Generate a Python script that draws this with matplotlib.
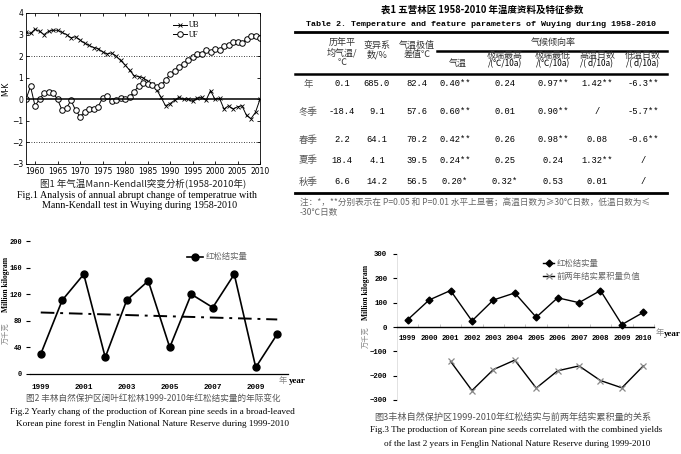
import matplotlib
matplotlib.use('Agg')
import matplotlib.pyplot as plt
from matplotlib.lines import Line2D
import numpy as np

W, H = 681, 454
CJK = ['Noto Sans CJK SC', 'DejaVu Sans']
SERIF = 'Liberation Serif'
MONO = 'Liberation Mono'

# ---- Fig.1 Mann-Kendall data (1958-2010)
mk_years = list(range(1958, 2011))
ub = [3.10, 3.05, 3.25, 3.15, 3.00, 3.15, 3.20, 3.20, 3.10, 3.00, 2.85, 2.90, 2.75, 2.60,
      2.50, 2.40, 2.35, 2.20, 2.10, 2.15, 2.00, 1.80, 1.60, 1.35, 1.10, 1.05, 1.00, 0.85,
      0.70, 0.45, 0.10, -0.30, -0.20, -0.05, 0.10, 0.00, 0.00, -0.10, 0.05, 0.10, -0.05,
      0.40, 0.00, 0.05, -0.45, -0.30, -0.45, -0.35, -0.30, -0.75, -0.90, -0.60, 0.00]
uf = [0.00, 0.60, -0.30, 0.00, 0.30, 0.35, 0.30, 0.00, -0.50, -0.40, -0.05, -0.50, -0.80,
      -0.60, -0.45, -0.45, -0.35, 0.05, 0.15, -0.10, -0.05, 0.05, 0.00, 0.10, 0.35, 0.60,
      0.75, 0.70, 0.65, 0.55, 0.65, 0.90, 1.15, 1.30, 1.50, 1.65, 1.80, 1.95, 2.10, 2.10,
      2.30, 2.20, 2.35, 2.30, 2.45, 2.50, 2.65, 2.65, 2.60, 2.80, 2.95, 2.95, 2.85]

# ---- Fig.2 / Fig.3 seed production (1999-2010)
seed_years = [str(y) for y in range(1999, 2011)]
seed = [30, 111, 150, 25, 111, 140, 40, 120, 100, 150, 10, 60]
trend_ends = [92.5, 82.0]
neg_years = seed_years[2:]
neg_prev2 = [-141, -261, -175, -136, -251, -180, -160, -220, -250, -160]

# ---- Table
row_names = ['年', '冬季', '春季', '夏季', '秋季']
mean_temp = ['0.1', '-18.4', '2.2', '18.4', '6.6']
cv_pct = ['685.0', '9.1', '64.1', '4.1', '14.2']
temp_range = ['82.4', '57.6', '70.2', '39.5', '56.5']
rate_temp = ['0.40**', '0.60**', '0.42**', '0.24**', '0.20*']
rate_max = ['0.24', '0.01', '0.26', '0.25', '0.32*']
rate_min = ['0.97**', '0.90**', '0.98**', '0.24', '0.53']
rate_hot = ['1.42**', '/', '0.08', '1.32**', '0.01']
rate_cold = ['-6.3**', '-5.7**', '-0.6**', '/', '/']

fig = plt.figure(figsize=(W / 100, H / 100), dpi=100)
fig.patch.set_facecolor('white')


def box(x0, y0, x1, y1):
    return [x0 / W, 1 - y1 / H, (x1 - x0) / W, (y1 - y0) / H]


def txt(x, y, s, **kw):
    kw.setdefault('ha', 'center')
    kw.setdefault('va', 'center')
    return fig.text(x / W, 1 - y / H, s, **kw)


def hline(x0, x1, y, lw, color='black'):
    fig.add_artist(Line2D([x0 / W, x1 / W], [1 - y / H] * 2, color=color, lw=lw))


# ================= Fig.1 =================
ax1 = fig.add_axes(box(26, 13, 260, 164))
ax1.plot(mk_years, ub, color='black', lw=0.7, marker='x', ms=2.5, mew=0.6, label='UB')
ax1.plot(mk_years, uf, color='black', lw=0.7, marker='o', ms=4, mfc='white', mew=0.7, label='UF')
ax1.axhline(0, color='black', lw=1.1)
for v in (2, -2):
    ax1.axhline(v, color='black', lw=0.6, ls=(0, (1, 2)))
ax1.set_xlim(1958, 2010)
ax1.set_ylim(-3, 4)
ax1.set_xticks(range(1960, 2011, 5))
ax1.set_yticks(range(-3, 5))
ax1.tick_params(direction='in', top=True, right=True, labelsize=5.5, length=2.5, width=0.6, pad=2)
for lab in ax1.get_xticklabels() + ax1.get_yticklabels():
    lab.set_family('DejaVu Sans')
for sp in ax1.spines.values():
    sp.set_linewidth(0.6)
ax1.set_ylabel('M-K', fontsize=5.5, labelpad=1)
ax1.legend(loc='upper left', bbox_to_anchor=(0.6, 0.99), frameon=False,
           handlelength=1.8, handletextpad=0.3, labelspacing=0.2, prop={'family': SERIF, 'size': 5.5})

txt(143, 184, '图1 年气温Mann-Kendall突变分析(1958-2010年)', family=CJK, fontsize=6.8, color='#222222')
txt(137, 195, 'Fig.1 Analysis of annual abrupt change of temperatrue with', family=SERIF, fontsize=7.2)
txt(140, 206, 'Mann-Kendall test in Wuying during 1958-2010', family=SERIF, fontsize=7.2)

# ================= Table =================
txt(482, 10, '表1 五营林区 1958-2010 年温度资料及特征参数', family=CJK, fontsize=6.8, weight='bold')
txt(481, 24, 'Table 2. Temperature and feature parameters of Wuying during 1958-2010',
    family=MONO, fontsize=6, weight='bold')
hline(295, 667, 32, 2.0)
hline(437, 667, 50.5, 1.8)
hline(295, 667, 73.5, 1.8)
hline(295, 667, 193, 2.0)

hdr = dict(family=CJK, fontsize=6.5, color='#333333', linespacing=1.0)
txt(342, 53, '历年平\n均气温/\n℃', **hdr)
txt(377, 50, '变异系\n数/%', **hdr)
txt(417, 50, '气温极值\n差值℃', **hdr)
txt(553, 42, '气候倾向率', **hdr)
txt(458, 63, '气温', **hdr)
sub_x = [505, 553, 597, 643]
sub_top = ['极端最高', '极端最低', '高温日数', '低温日数']
sub_bot = ['/(℃/10a)', '/(℃/10a)', '/( d/10a)', '/( d/10a)']
for x, a, b in zip(sub_x, sub_top, sub_bot):
    txt(x, 55, a, **hdr)
    txt(x, 64, b, family=CJK, fontsize=6, color='black')

row_y = [84, 112, 140, 160, 182]
col_x = [342, 377, 417, 455, 505, 553, 597, 643]
cols = [mean_temp, cv_pct, temp_range, rate_temp, rate_max, rate_min, rate_hot, rate_cold]
for i, (name, y) in enumerate(zip(row_names, row_y)):
    txt(308, y, name, family=CJK, fontsize=6.8, color='#555555')
    for x, col in zip(col_x, cols):
        txt(x, y, col[i], family=MONO, fontsize=6.3)

txt(300, 202, '注：*，**分别表示在 P=0.05 和 P=0.01 水平上显著；高温日数为≥30℃日数，低温日数为≤',
    family=CJK, fontsize=6.2, color='#666666', ha='left')
txt(300, 213, '-30℃日数', family=CJK, fontsize=6.2, color='#666666', ha='left')

# ================= Fig.2 =================
ax2 = fig.add_axes(box(30, 241, 288, 374))
xi = np.arange(len(seed_years))
ax2.plot(xi, seed, color='black', lw=1.2, marker='o', ms=5, label='红松结实量')
ax2.plot([xi[0], xi[-1]], trend_ends, color='black', lw=1.4, ls=(0, (7, 3, 1.5, 3)))
ax2.set_xlim(-0.5, len(seed_years) - 0.5)
ax2.set_ylim(0, 200)
ax2.set_yticks(range(0, 201, 40))
ax2.set_xticks(xi[::2])
ax2.set_xticklabels(seed_years[::2])
for sp in ('top', 'right', 'left'):
    ax2.spines[sp].set_visible(False)
ax2.spines['bottom'].set_linewidth(0.9)
ax2.tick_params(axis='x', length=0, pad=7)
ax2.tick_params(axis='y', length=3, width=0.8, pad=2.5)
for lab in ax2.get_xticklabels():
    lab.set_family(MONO)
    lab.set_weight('bold')
    lab.set_fontsize(5.5)
for lab in ax2.get_yticklabels():
    lab.set_family(MONO)
    lab.set_weight('bold')
    lab.set_fontsize(5)
leg2 = ax2.legend(loc='center left', bbox_to_anchor=(0.58, 0.88), frameon=False,
                  handlelength=1.9, handletextpad=0.3, prop={'family': CJK, 'size': 6})
for t in leg2.get_texts():
    t.set_color('#666666')
txt(6, 333, '万千克', family=CJK, fontsize=5.2, color='#888888', rotation=90)
txt(6, 284, 'Million kilogram', family=SERIF, fontsize=5.5, weight='bold', rotation=90)
txt(283, 380, '年', family=CJK, fontsize=6, color='#888888')
txt(297, 381, 'year', family=SERIF, fontsize=6.5, weight='bold')

txt(153, 398, '图2 丰林自然保护区阔叶红松林1999-2010年红松结实量的年际变化', family=CJK, fontsize=6.2, color='#555555')
txt(152, 412, 'Fig.2 Yearly chang of the production of Korean pine seeds in a broad-leaved',
    family=SERIF, fontsize=6.7)
txt(153, 424, 'Korean pine forest in Fenglin National Nature Reserve during 1999-2010',
    family=SERIF, fontsize=6.7)

# ================= Fig.3 =================
ax3 = fig.add_axes(box(397, 254, 654, 400))
nx = np.arange(2, len(seed_years))
ax3.plot(xi, seed, color='black', lw=1.0, marker='D', ms=3.5, label='红松结实量')
ax3.plot(nx, neg_prev2, color='black', lw=1.0, marker='x', ms=5, mec='#888888', mew=0.9,
         label='前两年结实累积量负值')
ax3.set_xlim(-0.5, len(seed_years) - 0.5)
ax3.set_ylim(-300, 300)
ax3.set_yticks(range(-300, 301, 100))
ax3.set_xticks(xi)
ax3.set_xticklabels(seed_years)
ax3.set_xticks(np.arange(-0.5, len(seed_years), 1), minor=True)
ax3.spines['bottom'].set_position(('data', 0))
ax3.spines['bottom'].set_linewidth(1.0)
ax3.spines['left'].set_color('#dddddd')
ax3.spines['left'].set_linewidth(0.6)
for sp in ('top', 'right'):
    ax3.spines[sp].set_visible(False)
ax3.tick_params(axis='x', which='major', length=0, pad=6)
ax3.tick_params(axis='x', which='minor', length=2, direction='in', color='#bbbbbb')
ax3.tick_params(axis='y', length=3, width=0.8, pad=4, color='black')
for lab in ax3.get_xticklabels() + ax3.get_yticklabels():
    lab.set_family(MONO)
    lab.set_weight('bold')
    lab.set_fontsize(5.3)
leg3 = ax3.legend(loc='upper left', bbox_to_anchor=(0.54, 1.02), frameon=False,
                  handlelength=1.3, handletextpad=0.3, labelspacing=0.5, prop={'family': CJK, 'size': 6})
for t in leg3.get_texts():
    t.set_color('#666666')
txt(366, 337, '万千克', family=CJK, fontsize=5.2, color='#888888', rotation=90)
txt(366, 292, 'Million kilogram', family=SERIF, fontsize=5.5, weight='bold', rotation=90)
txt(660, 333, '年', family=CJK, fontsize=6, color='#888888')
txt(672, 334, 'year', family=SERIF, fontsize=6.5, weight='bold')

txt(513, 417, '图3丰林自然保护区1999-2010年红松结实与前两年结实累积量的关系', family=CJK, fontsize=6.6, color='#555555')
txt(516, 430, 'Fig.3 The production of Korean pine seeds correlated with the combined yields',
    family=SERIF, fontsize=6.6)
txt(517, 444, 'of the last 2 years in Fenglin National Nature Reserve during 1999-2010',
    family=SERIF, fontsize=6.6)

fig.savefig('out.png', dpi=100, facecolor='white')
